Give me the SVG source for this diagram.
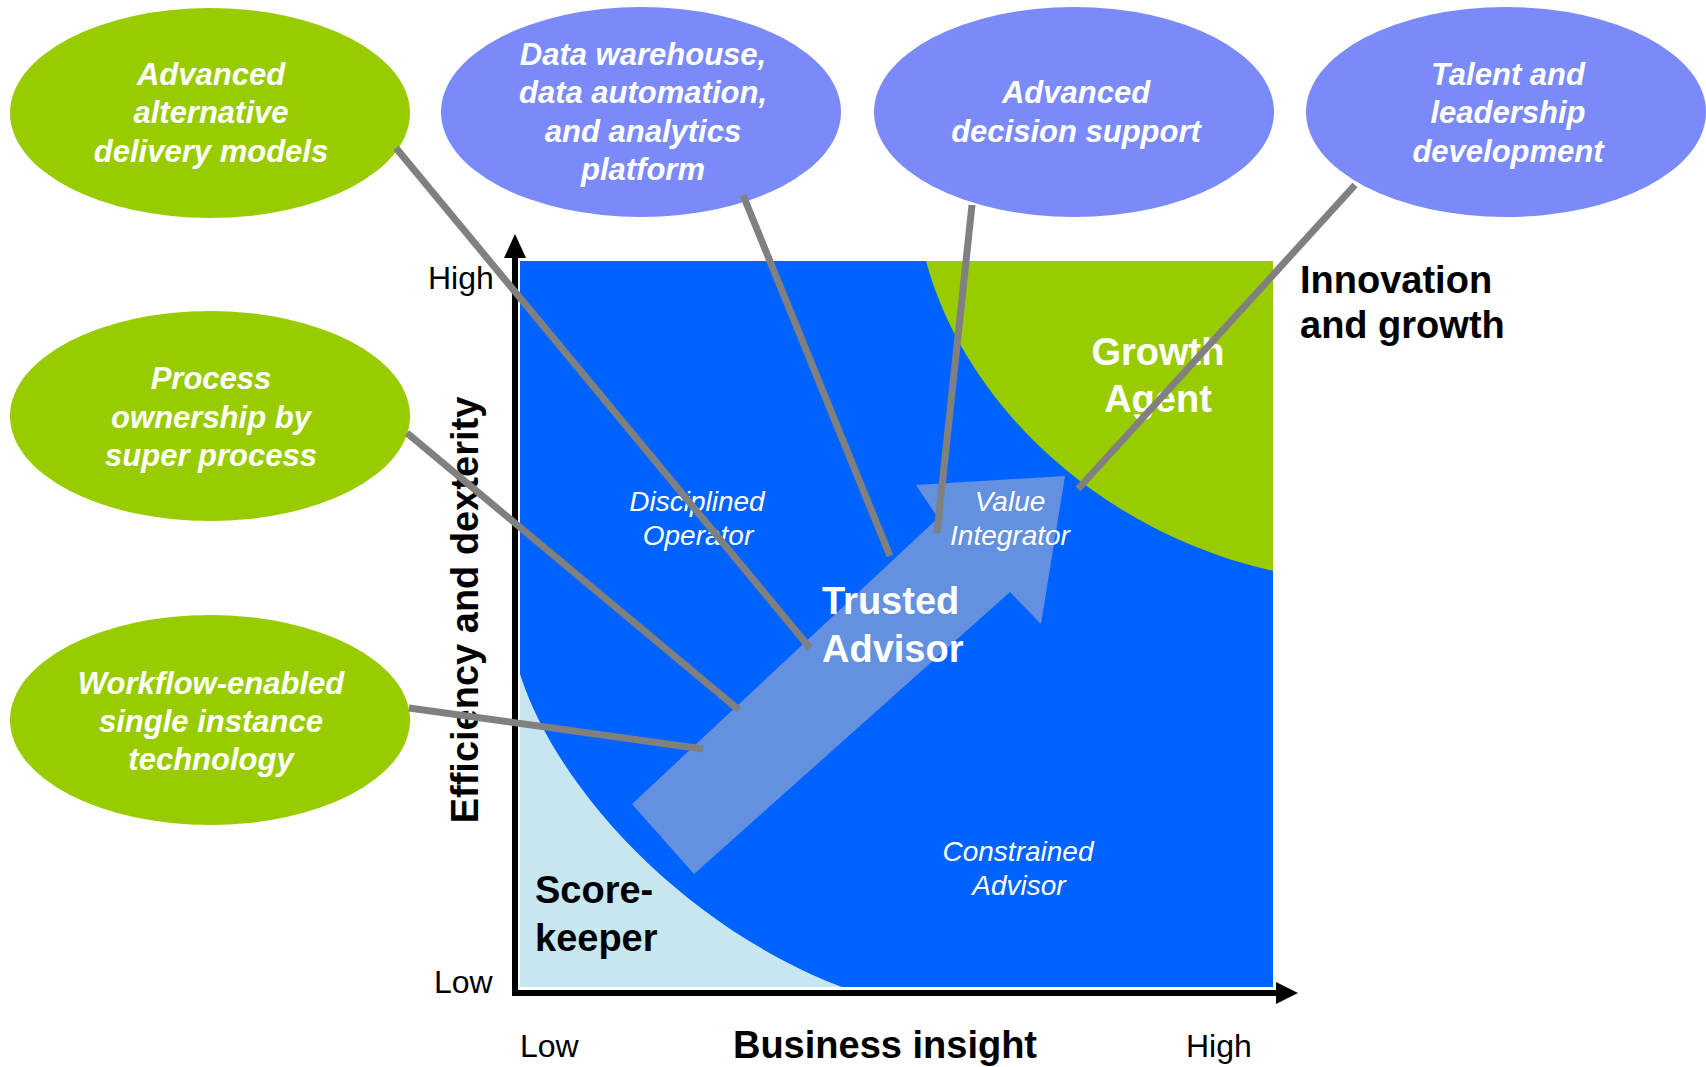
<svg xmlns="http://www.w3.org/2000/svg" width="1706" height="1067" viewBox="0 0 1706 1067">
<style>
.bub{font-family:"Liberation Sans",Arial,sans-serif;font-size:31px;font-weight:bold;font-style:italic;fill:#fff;text-anchor:middle}
.g{fill:#99CC00}
.b{fill:#7A8AF9}
.ax{font-family:"Liberation Sans",Arial,sans-serif;font-size:32px;fill:#000}
.big{font-family:"Liberation Sans",Arial,sans-serif;font-size:38px;font-weight:bold}
.thin{font-family:"Liberation Sans",Arial,sans-serif;font-size:28px;font-style:italic;fill:#fff;text-anchor:middle}
.con{stroke:#808080;stroke-width:7;fill:none}
</style>
<defs>
<marker id="ah" markerWidth="4" markerHeight="4" refX="0" refY="2" orient="auto" markerUnits="strokeWidth"><path d="M0,0 L4,2 L0,4 Z" fill="#000"/></marker>
</defs>
<rect width="1706" height="1067" fill="#fff"/>
<g id="chart">
<rect x="520" y="261" width="753" height="726" fill="#0062FF"/>
<path d="M520,674 C555,785 680,925 842,987 L520,987 Z" fill="#C6E6F0"/>
<path d="M926,261 C965,405 1100,532 1273,571 L1273,261 Z" fill="#99CC00"/>
<polygon points="632,804 938,518 916,485 1065,476 1041,624 1010,592 694,874" fill="#6391E0"/>
</g>
<g id="axes">
<line x1="515" y1="993" x2="515" y2="256" stroke="#000" stroke-width="6"/>
<polygon points="515,234 504,258 526,258" fill="#000"/>
<line x1="512" y1="993" x2="1280" y2="993" stroke="#000" stroke-width="6"/>
<polygon points="1298,993 1276,982 1276,1004" fill="#000"/>
<text class="ax" x="428" y="289">High</text>
<text class="ax" x="434" y="993">Low</text>
<text class="ax" x="520" y="1057">Low</text>
<text class="ax" x="1186" y="1057">High</text>
<text class="big" x="885" y="1058" text-anchor="middle" fill="#000">Business insight</text>
<text class="big" transform="translate(478,610) rotate(-90)" text-anchor="middle" fill="#000">Efficiency and dexterity</text>
<text class="big" x="1300" y="293" fill="#000">Innovation</text>
<text class="big" x="1300" y="338" fill="#000">and growth</text>
</g>
<g id="regions">
<text class="big" x="535" y="903" fill="#000">Score-</text>
<text class="big" x="535" y="951" fill="#000">keeper</text>
<text class="big" x="822" y="614" fill="#fff">Trusted</text>
<text class="big" x="822" y="662" fill="#fff">Advisor</text>
<text class="big" x="1158" y="365" fill="#fff" text-anchor="middle">Growth</text>
<text class="big" x="1158" y="412" fill="#fff" text-anchor="middle">Agent</text>
<text class="thin" x="697" y="511">Disciplined</text>
<text class="thin" x="698" y="545">Operator</text>
<text class="thin" x="1010" y="511">Value</text>
<text class="thin" x="1010" y="545">Integrator</text>
<text class="thin" x="1018" y="861">Constrained</text>
<text class="thin" x="1019" y="895">Advisor</text>
</g>
<g id="n1"><ellipse class="g" cx="210" cy="113" rx="200" ry="105"/>
<text class="bub" x="211" y="85">Advanced</text><text class="bub" x="211" y="123">alternative</text><text class="bub" x="211" y="162">delivery models</text></g>
<g id="n2"><ellipse class="b" cx="641" cy="112" rx="200" ry="105"/>
<text class="bub" x="643" y="65">Data warehouse,</text><text class="bub" x="643" y="103">data automation,</text><text class="bub" x="643" y="142">and analytics</text><text class="bub" x="643" y="180">platform</text></g>
<g id="n3"><ellipse class="b" cx="1074" cy="112" rx="200" ry="105"/>
<text class="bub" x="1076" y="103">Advanced</text><text class="bub" x="1076" y="142">decision support</text></g>
<g id="n4"><ellipse class="b" cx="1506" cy="112" rx="200" ry="105"/>
<text class="bub" x="1508" y="85">Talent and</text><text class="bub" x="1508" y="123">leadership</text><text class="bub" x="1508" y="162">development</text></g>
<g id="n5"><ellipse class="g" cx="210" cy="416" rx="200" ry="105"/>
<text class="bub" x="211" y="389">Process</text><text class="bub" x="211" y="428">ownership by</text><text class="bub" x="211" y="466">super process</text></g>
<g id="n6"><ellipse class="g" cx="210" cy="720" rx="200" ry="105"/>
<text class="bub" x="211" y="694">Workflow-enabled</text><text class="bub" x="211" y="732">single instance</text><text class="bub" x="211" y="770">technology</text></g>
<g id="connectors">
<line class="con" x1="396" y1="148" x2="810" y2="648"/>
<line class="con" x1="743" y1="195" x2="890" y2="556"/>
<line class="con" x1="972" y1="205" x2="937" y2="533"/>
<line class="con" x1="1355" y1="185" x2="1078" y2="489"/>
<line class="con" x1="407" y1="433" x2="739" y2="710"/>
<line class="con" x1="409" y1="708" x2="703" y2="749"/>
</g>
</svg>
